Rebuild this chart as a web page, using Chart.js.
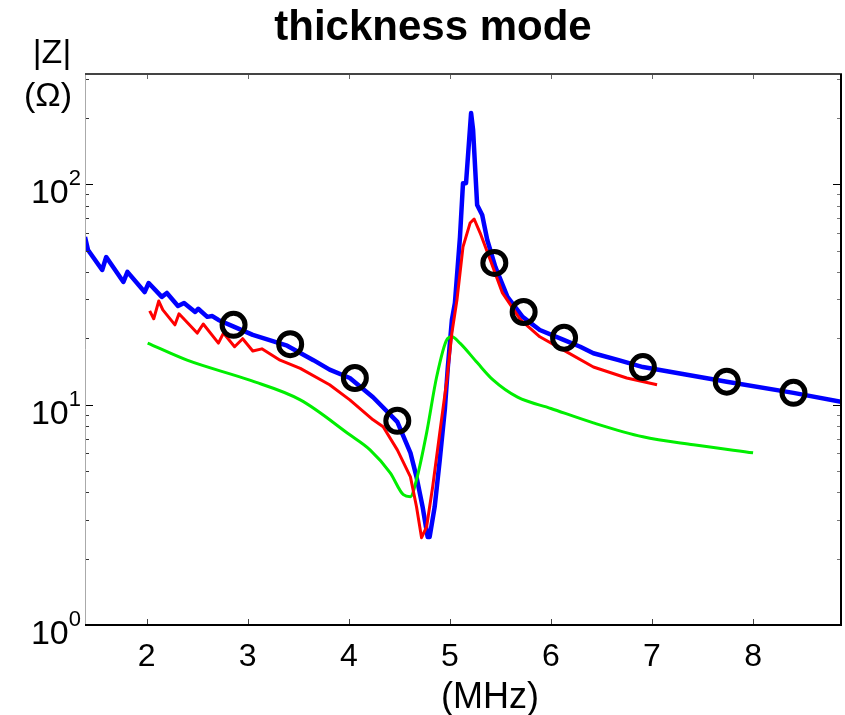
<!DOCTYPE html>
<html>
<head>
<meta charset="utf-8">
<script src="https://cdn.jsdelivr.net/npm/chart.js@4.4.1/dist/chart.umd.min.js"></script>
<style>
    html, body { margin: 0; padding: 0; background: #fff; }
    canvas { display: block; }
</style>
</head>
<body>
<canvas id="thicknessChart" width="845" height="715"></canvas>
<script>
// Medido (azul)
const measuredFreq = [1.39, 1.42, 1.56, 1.60, 1.77, 1.81, 1.98, 2.02, 2.15, 2.20, 2.31, 2.37, 2.48, 2.51, 2.60, 2.65, 2.71, 2.85, 3.05, 3.39, 3.65, 3.81, 4.01, 4.24, 4.48, 4.61, 4.67, 4.73, 4.78, 4.80, 4.85, 4.90, 4.95, 4.98, 5.02, 5.05, 5.10, 5.13, 5.16, 5.21, 5.23, 5.27, 5.32, 5.37, 5.45, 5.57, 5.72, 5.89, 6.12, 6.29, 6.42, 6.67, 6.91, 7.74, 8.40, 8.87];
const measuredZ = [57.5, 50.3, 40.8, 46.7, 36.0, 40.0, 32.4, 35.6, 30.8, 32.1, 28.0, 28.9, 26.3, 27.2, 25.0, 25.2, 24.2, 22.7, 20.7, 18.5, 15.9, 14.4, 13.2, 10.8, 8.35, 6.04, 4.70, 3.44, 2.51, 2.51, 3.44, 5.61, 9.46, 14.8, 24.2, 28.9, 57.5, 101, 101, 210, 176, 80.4, 72.4, 55.8, 42.1, 30.8, 25.0, 21.8, 19.7, 18.3, 17.1, 15.9, 14.8, 12.7, 11.3, 10.3];

// Modelo (vermelho)
const modelFreq = [2.03, 2.07, 2.12, 2.16, 2.28, 2.32, 2.50, 2.56, 2.71, 2.76, 2.87, 2.95, 3.05, 3.14, 3.32, 3.52, 3.81, 4.01, 4.24, 4.34, 4.48, 4.61, 4.67, 4.72, 4.77, 4.83, 4.90, 4.97, 5.02, 5.07, 5.13, 5.20, 5.24, 5.30, 5.40, 5.52, 5.70, 5.89, 6.16, 6.42, 6.75, 7.05];
const modelZ = [26.6, 24.5, 29.5, 26.9, 23.0, 25.8, 21.1, 23.2, 19.0, 21.1, 18.3, 19.9, 17.5, 17.9, 15.9, 14.6, 12.3, 10.5, 8.53, 7.93, 6.23, 4.70, 3.44, 2.49, 2.79, 4.24, 7.44, 12.9, 21.1, 29.8, 51.9, 66.6, 69.5, 60.0, 45.3, 32.1, 24.2, 20.3, 17.3, 14.8, 13.2, 12.3];

// Simulação (verde)
const simFreq = [2.01, 2.40, 3.02, 3.52, 4.01, 4.21, 4.41, 4.54, 4.61, 4.67, 4.77, 4.87, 4.97, 5.02, 5.10, 5.27, 5.43, 5.67, 6.00, 6.42, 6.91, 7.41, 8.00];
const simZ = [19.0, 15.9, 12.9, 10.5, 7.29, 6.23, 4.90, 3.90, 3.82, 4.56, 7.44, 13.4, 19.7, 20.3, 19.0, 15.5, 12.9, 10.8, 9.6, 8.26, 7.14, 6.57, 6.04];

// Pontos marcados (círculos)
const markerFreq = [2.86, 3.42, 4.06, 4.48, 5.44, 5.73, 6.13, 6.91, 7.74, 8.40];
const markerZ = [23.0, 18.8, 13.2, 8.44, 43.9, 26.3, 20.1, 14.8, 12.7, 11.3];

const xTickLabels = [2, 3, 4, 5, 6, 7, 8];
const yDecades = [1, 10, 100];
const yExponents = ['0', '1', '2'];

function toPoints(xs, ys) {
    return xs.map((x, i) => ({ x: x, y: ys[i] }));
}

const FONT = '"Liberation Sans", Arial, Helvetica, sans-serif';

// Eixos, rótulos e título desenhados à mão (estilo MATLAB)
const axesPlugin = {
    id: 'matlabAxes',
    afterDraw(chart) {
        const ctx = chart.ctx;
        const area = chart.chartArea;
        const xs = chart.scales.x;
        const ys = chart.scales.y;
        ctx.save();

        // marcas do eixo y (log, com menores)
        yDecades.forEach(d => {
            for (let m = 1; m <= 9; m++) {
                const v = d * m;
                if (v > ys.max) break;
                const py = Math.round(ys.getPixelForValue(v)) + 0.5;
                const len = m === 1 ? 8 : 4;
                ctx.lineWidth = 1;
                ctx.strokeStyle = m === 1 ? '#000' : '#333';
                ctx.beginPath();
                ctx.moveTo(area.left, py);
                ctx.lineTo(area.left + len, py);
                ctx.stroke();
                ctx.strokeStyle = m === 1 ? '#000' : '#777';
                ctx.beginPath();
                ctx.moveTo(area.right, py);
                ctx.lineTo(area.right - len, py);
                ctx.stroke();
            }
        });

        // marcas do eixo x
        xTickLabels.forEach(t => {
            const px = Math.round(xs.getPixelForValue(t)) + 0.5;
            ctx.lineWidth = 1;
            ctx.strokeStyle = '#444';
            ctx.beginPath();
            ctx.moveTo(px, area.bottom);
            ctx.lineTo(px, area.bottom - 6);
            ctx.stroke();
            ctx.strokeStyle = '#666';
            ctx.beginPath();
            ctx.moveTo(px, area.top);
            ctx.lineTo(px, area.top + 5);
            ctx.stroke();
        });

        // moldura
        ctx.lineWidth = 1;
        ctx.strokeStyle = '#aaa';
        ctx.beginPath();
        ctx.moveTo(area.left + 0.5, area.top);
        ctx.lineTo(area.left + 0.5, area.bottom);
        ctx.stroke();
        ctx.lineWidth = 2;
        ctx.strokeStyle = '#444';
        ctx.beginPath();
        ctx.moveTo(area.left, area.top);
        ctx.lineTo(area.right + 1, area.top);
        ctx.stroke();
        ctx.strokeStyle = '#000';
        ctx.beginPath();
        ctx.moveTo(area.right, area.top);
        ctx.lineTo(area.right, area.bottom);
        ctx.moveTo(area.left, area.bottom);
        ctx.lineTo(area.right + 1, area.bottom);
        ctx.stroke();

        ctx.fillStyle = '#000';

        // rótulos do eixo x
        ctx.font = '32px ' + FONT;
        ctx.textAlign = 'center';
        ctx.textBaseline = 'alphabetic';
        xTickLabels.forEach(t => {
            ctx.fillText(String(t), xs.getPixelForValue(t), 666);
        });

        // rótulos do eixo y: 10^n
        yDecades.forEach((d, i) => {
            const py = ys.getPixelForValue(d);
            ctx.textAlign = 'right';
            ctx.font = '22px ' + FONT;
            ctx.fillText(yExponents[i], 81, py + 1);
            const ew = ctx.measureText(yExponents[i]).width;
            ctx.font = '34px ' + FONT;
            ctx.fillText('10', 81 - ew, py + 19);
        });

        // títulos dos eixos
        ctx.textAlign = 'center';
        ctx.font = '34px ' + FONT;
        ctx.fillText('|Z|', 52, 63);
        ctx.fillText('(\u03A9)', 48, 106);
        ctx.font = '36px ' + FONT;
        ctx.fillText('(MHz)', 490, 708);

        // título
        ctx.font = 'bold 42px ' + FONT;
        ctx.fillText('thickness mode', 433, 40);

        ctx.restore();
    }
};

document.addEventListener('DOMContentLoaded', function() {
    const ctx = document.getElementById('thicknessChart');
    new Chart(ctx, {
        type: 'line',
        data: {
            datasets: [
                {
                    label: 'marcadores',
                    data: toPoints(markerFreq, markerZ),
                    showLine: false,
                    pointRadius: 11.5,
                    pointBorderWidth: 5,
                    pointBorderColor: '#000',
                    pointBackgroundColor: 'rgba(0,0,0,0)',
                    order: 0
                },
                {
                    label: 'modelo',
                    data: toPoints(modelFreq, modelZ),
                    borderColor: '#ff0000',
                    borderWidth: 3,
                    pointRadius: 0,
                    borderJoinStyle: 'round',
                    order: 1
                },
                {
                    label: 'simulação',
                    data: toPoints(simFreq, simZ),
                    borderColor: '#00ee00',
                    borderWidth: 3,
                    pointRadius: 0,
                    cubicInterpolationMode: 'monotone',
                    order: 2
                },
                {
                    label: 'medido',
                    data: toPoints(measuredFreq, measuredZ),
                    borderColor: '#0000ff',
                    borderWidth: 4.5,
                    pointRadius: 0,
                    borderJoinStyle: 'round',
                    order: 3
                }
            ]
        },
        options: {
            responsive: false,
            animation: false,
            devicePixelRatio: 1,
            layout: {
                autoPadding: false,
                padding: { left: 85, top: 74, right: 4, bottom: 90 }
            },
            plugins: {
                legend: { display: false },
                tooltip: { enabled: false },
                title: { display: false }
            },
            scales: {
                x: {
                    type: 'linear',
                    min: 1.39,
                    max: 8.87,
                    display: false
                },
                y: {
                    type: 'logarithmic',
                    min: 1,
                    max: 316,
                    display: false
                }
            }
        },
        plugins: [axesPlugin]
    });
});
</script>
</body>
</html>
